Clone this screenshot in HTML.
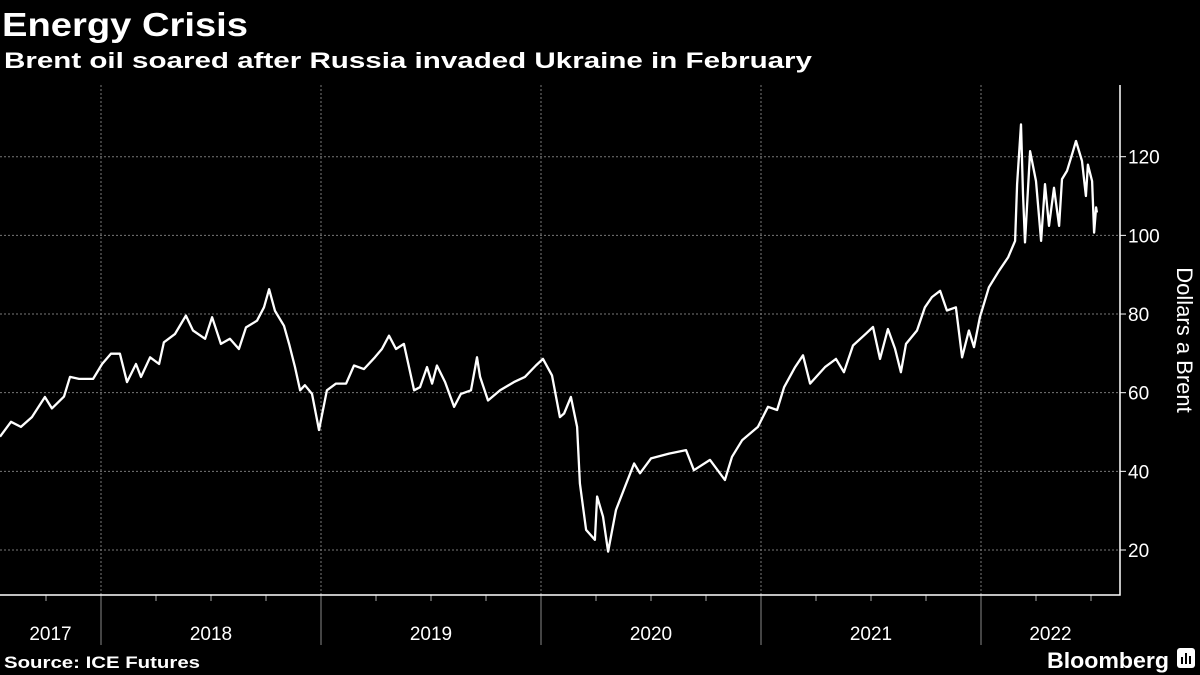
<!DOCTYPE html>
<html><head><meta charset="utf-8"><style>
html,body{margin:0;padding:0;background:#000;}
svg{display:block;font-family:"Liberation Sans",sans-serif;}
</style></head><body>
<svg id="chart" width="1200" height="675" viewBox="0 0 1200 675">
<rect width="1200" height="675" fill="#000"/>
<text x="2" y="36" fill="#fff" font-size="33" font-weight="bold" textLength="246" lengthAdjust="spacingAndGlyphs">Energy Crisis</text>
<text x="4" y="68" fill="#fff" font-size="22" font-weight="bold" textLength="808" lengthAdjust="spacingAndGlyphs">Brent oil soared after Russia invaded Ukraine in February</text>
<g id="grid"></g>
<g id="axes"></g>
<path id="line" fill="none" stroke="#fff" stroke-width="2.3" stroke-linejoin="round"/>
<text transform="translate(1177,340) rotate(90)" text-anchor="middle" fill="#fff" font-size="22">Dollars a Brent</text>
<text x="4" y="668" fill="#fff" font-size="17" font-weight="bold" textLength="196" lengthAdjust="spacingAndGlyphs">Source: ICE Futures</text>
<text x="1047" y="668" fill="#fff" font-size="22" font-weight="bold" textLength="122" lengthAdjust="spacingAndGlyphs">Bloomberg</text>
<g><rect x="1177" y="648" width="18" height="20" rx="3" fill="#fff"/><rect x="1181" y="657" width="2" height="7" fill="#000"/><rect x="1185" y="653" width="2" height="11" fill="#000"/><rect x="1189" y="656" width="2" height="8" fill="#000"/></g>
</svg>
<script>
const dates=[2017.541,2017.591,2017.636,2017.686,2017.745,2017.777,2017.832,2017.859,2017.900,2017.964,2018.005,2018.045,2018.086,2018.118,2018.159,2018.182,2018.223,2018.264,2018.286,2018.336,2018.386,2018.418,2018.473,2018.505,2018.545,2018.586,2018.627,2018.659,2018.709,2018.741,2018.764,2018.791,2018.832,2018.855,2018.882,2018.905,2018.927,2018.959,2018.991,2019.027,2019.068,2019.114,2019.150,2019.195,2019.245,2019.277,2019.309,2019.341,2019.377,2019.423,2019.450,2019.482,2019.505,2019.527,2019.564,2019.605,2019.636,2019.682,2019.709,2019.723,2019.759,2019.814,2019.877,2019.927,2019.977,2020.009,2020.050,2020.086,2020.105,2020.136,2020.164,2020.177,2020.205,2020.245,2020.255,2020.282,2020.305,2020.341,2020.382,2020.423,2020.450,2020.500,2020.582,2020.659,2020.695,2020.768,2020.836,2020.868,2020.914,2020.986,2021.032,2021.073,2021.105,2021.155,2021.191,2021.223,2021.291,2021.341,2021.377,2021.418,2021.477,2021.509,2021.541,2021.577,2021.609,2021.636,2021.659,2021.709,2021.745,2021.777,2021.814,2021.845,2021.886,2021.914,2021.945,2021.968,2021.995,2022.036,2022.082,2022.123,2022.155,2022.164,2022.182,2022.191,2022.200,2022.223,2022.250,2022.273,2022.291,2022.309,2022.332,2022.355,2022.368,2022.391,2022.418,2022.432,2022.459,2022.477,2022.486,2022.505,2022.514,2022.523,2022.527];
const prices=[48.8,52.6,51.3,53.8,58.9,56,59,64,63.5,63.5,67.3,69.9,69.9,62.7,67.3,64,69,67.3,72.8,74.9,79.6,75.8,73.7,79.2,72.4,73.7,71.1,76.6,78.3,81.7,86.3,80.8,77,72.4,66.5,60.6,61.9,59.7,50.5,60.6,62.3,62.3,66.9,66,69,71.1,74.5,71.1,72.4,60.6,61.4,66.5,62.3,66.9,62.7,56.4,59.7,60.6,69,64,58,60.6,62.7,64,66.9,68.6,64.4,53.8,54.7,58.9,51.3,36.9,25.1,22.6,33.6,28.5,19.6,30.2,36.1,42,39.5,43.3,44.5,45.4,40.3,42.9,37.8,43.7,47.9,51.3,56.4,55.6,61.4,66.5,69.5,62.3,66.5,68.6,65.2,72,75,76.7,68.6,76.2,71.2,65.2,72.4,75.8,81.7,84.3,85.9,80.9,81.7,69,75.8,71.6,79.2,86.8,91,94.4,98.6,113,128.2,110.5,98.2,121.4,113.8,98.6,113,102.4,112.1,102.4,114.3,116.4,121.4,124,118.9,110,118,113.8,100.7,107.1,105.8];
const yTicks=[20,40,60,80,100,120];
const years=[2017,2018,2019,2020,2021,2022];
const NS="http://www.w3.org/2000/svg";
function xS(t){return 101+(t-2018)*220;}
function yS(v){return 550-(v-20)*3.933;}
function mk(tag,attrs,parent){const e=document.createElementNS(NS,tag);for(const k in attrs)e.setAttribute(k,attrs[k]);parent.appendChild(e);return e;}
const grid=document.getElementById('grid'),axes=document.getElementById('axes');
yTicks.forEach(v=>{
  const l=mk('line',{x1:0,x2:1120,y1:yS(v),y2:yS(v),stroke:'#777','stroke-width':1,'stroke-dasharray':'2,2'},grid);
  
  
  const tk=mk('line',{x1:1120,x2:1126,y1:yS(v),y2:yS(v),stroke:'#fff'},axes);
  
  
  const t=mk('text',{x:1128,y:yS(v)+7,fill:'#fff','font-size':19},axes);
  t.textContent=v;
  
  
});
years.forEach((yr,i)=>{
  const x0=xS(yr);
  if(yr>2017){
    const g=mk('line',{x1:x0,x2:x0,y1:85,y2:595,stroke:'#777','stroke-dasharray':'2,2'},grid);
    
    
    const s=mk('line',{x1:x0,x2:x0,y1:595,y2:645,stroke:'#888'},axes);
    
    
  }
  for(let q=1;q<4;q++){const qx=xS(yr+q/4);if(qx>0&&qx<1120){const m=mk('line',{x1:qx,x2:qx,y1:595,y2:601,stroke:'#aaa'},axes);
    
    }}
  const a=Math.max(0,x0),b=Math.min(1120,xS(yr+1));
  const t=mk('text',{x:(a+b)/2,y:640,fill:'#fff','font-size':19,'text-anchor':'middle'},axes);
  t.textContent=yr;
  
  
});
const ax=mk('path',{d:'M0 595 H1120 V85',fill:'none',stroke:'#fff','stroke-width':1.5},axes);


document.getElementById('line').setAttribute('d',dates.map((t,i)=>(i?'L':'M')+xS(t).toFixed(1)+' '+yS(prices[i]).toFixed(1)).join(' '));
</script>
</body></html>
